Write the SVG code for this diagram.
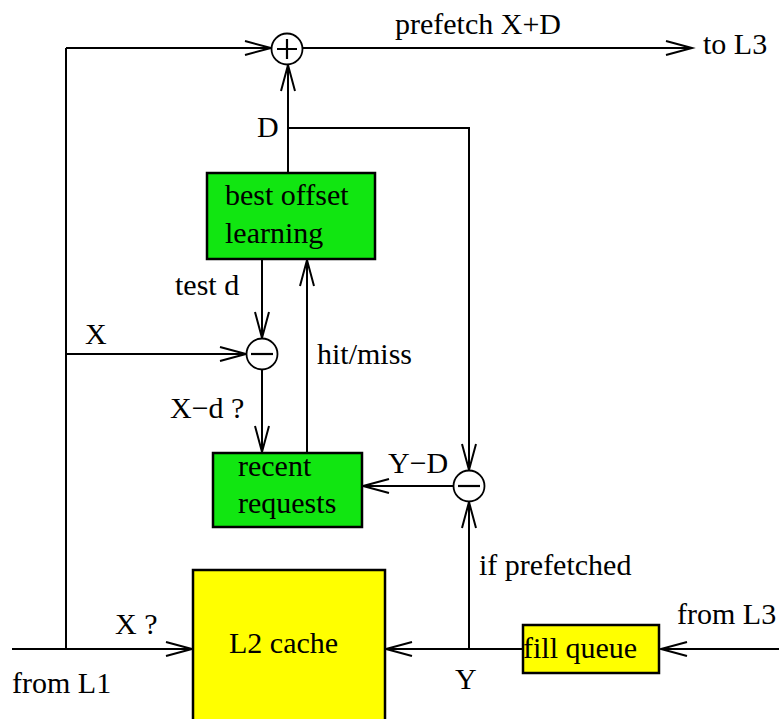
<svg xmlns="http://www.w3.org/2000/svg" width="779" height="719" viewBox="0 0 779 719">
<style>
text{font-family:"Liberation Serif","Times New Roman",serif;font-size:30px;fill:#000}
.box{stroke:#000;stroke-width:2.5}
.green{fill:#11e611}
.yellow{fill:#ffff00}
.op{fill:#fff;stroke:#000;stroke-width:1.8}
.sign{stroke:#000;stroke-width:2.2;fill:none}
.c{fill:none;stroke:#000;stroke-width:2}
.a{marker-end:url(#arr)}
</style>
<defs>
<marker id="arr" markerUnits="userSpaceOnUse" viewBox="0 0 30 18" markerWidth="30" markerHeight="18" refX="28" refY="9" orient="auto" overflow="visible">
<path d="M2 2 L28 9 L2 16" fill="none" stroke="#000" stroke-width="2"/>
</marker>
</defs>
<rect width="779" height="719" fill="#fff"/>
<g id="connectors">
<path class="c a" d="M12 649 H192"/>
<path class="c" d="M66 649 V48"/>
<path class="c a" d="M66 48 H271"/>
<path class="c a" d="M303 48 H692"/>
<path class="c a" d="M288 173 V65"/>
<path class="c a" d="M288 128 H469 V470"/>
<path class="c a" d="M262 259 V338"/>
<path class="c a" d="M66 354 H246"/>
<path class="c a" d="M262 370 V452"/>
<path class="c a" d="M307 453 V260"/>
<path class="c a" d="M453 486 H363"/>
<path class="c a" d="M469 649 V502"/>
<path class="c a" d="M523 649 H386"/>
<path class="c a" d="M779 649 H661"/>
<text x="395" y="34">prefetch X+D</text>
<text x="703" y="54">to L3</text>
<text x="257" y="137">D</text>
<text x="175" y="295">test d</text>
<text x="85" y="344">X</text>
<text x="317" y="364">hit/miss</text>
<text x="170" y="418">X−d ?</text>
<text x="388" y="473">Y−D</text>
<text x="479" y="575">if prefetched</text>
<text x="115" y="634">X ?</text>
<text x="12" y="693">from L1</text>
<text x="455" y="689">Y</text>
<text x="677" y="624">from L3</text>
</g>
<g id="plus">
<circle class="op" cx="287" cy="49" r="15.5"/>
<path class="sign" d="M277 49 H297 M287 39 V59"/>
</g>
<g id="minus1">
<circle class="op" cx="262" cy="354" r="15.5"/>
<path class="sign" d="M251 354 H273"/>
</g>
<g id="minus2">
<circle class="op" cx="469" cy="486" r="15.5"/>
<path class="sign" d="M458 486 H480"/>
</g>
<g id="best-offset">
<rect class="box green" x="207" y="173" width="168" height="86"/>
<text x="225" y="205">best offset</text>
<text x="225" y="243">learning</text>
</g>
<g id="recent-requests">
<rect class="box green" x="213" y="453" width="149" height="74"/>
<text x="238" y="476">recent</text>
<text x="238" y="513">requests</text>
</g>
<g id="l2-cache">
<rect class="box yellow" x="193" y="570" width="192" height="152"/>
<text x="229" y="653">L2 cache</text>
</g>
<g id="fill-queue">
<rect class="box yellow" x="523" y="625" width="136" height="48"/>
<text x="523" y="658">fill queue</text>
</g>
</svg>
